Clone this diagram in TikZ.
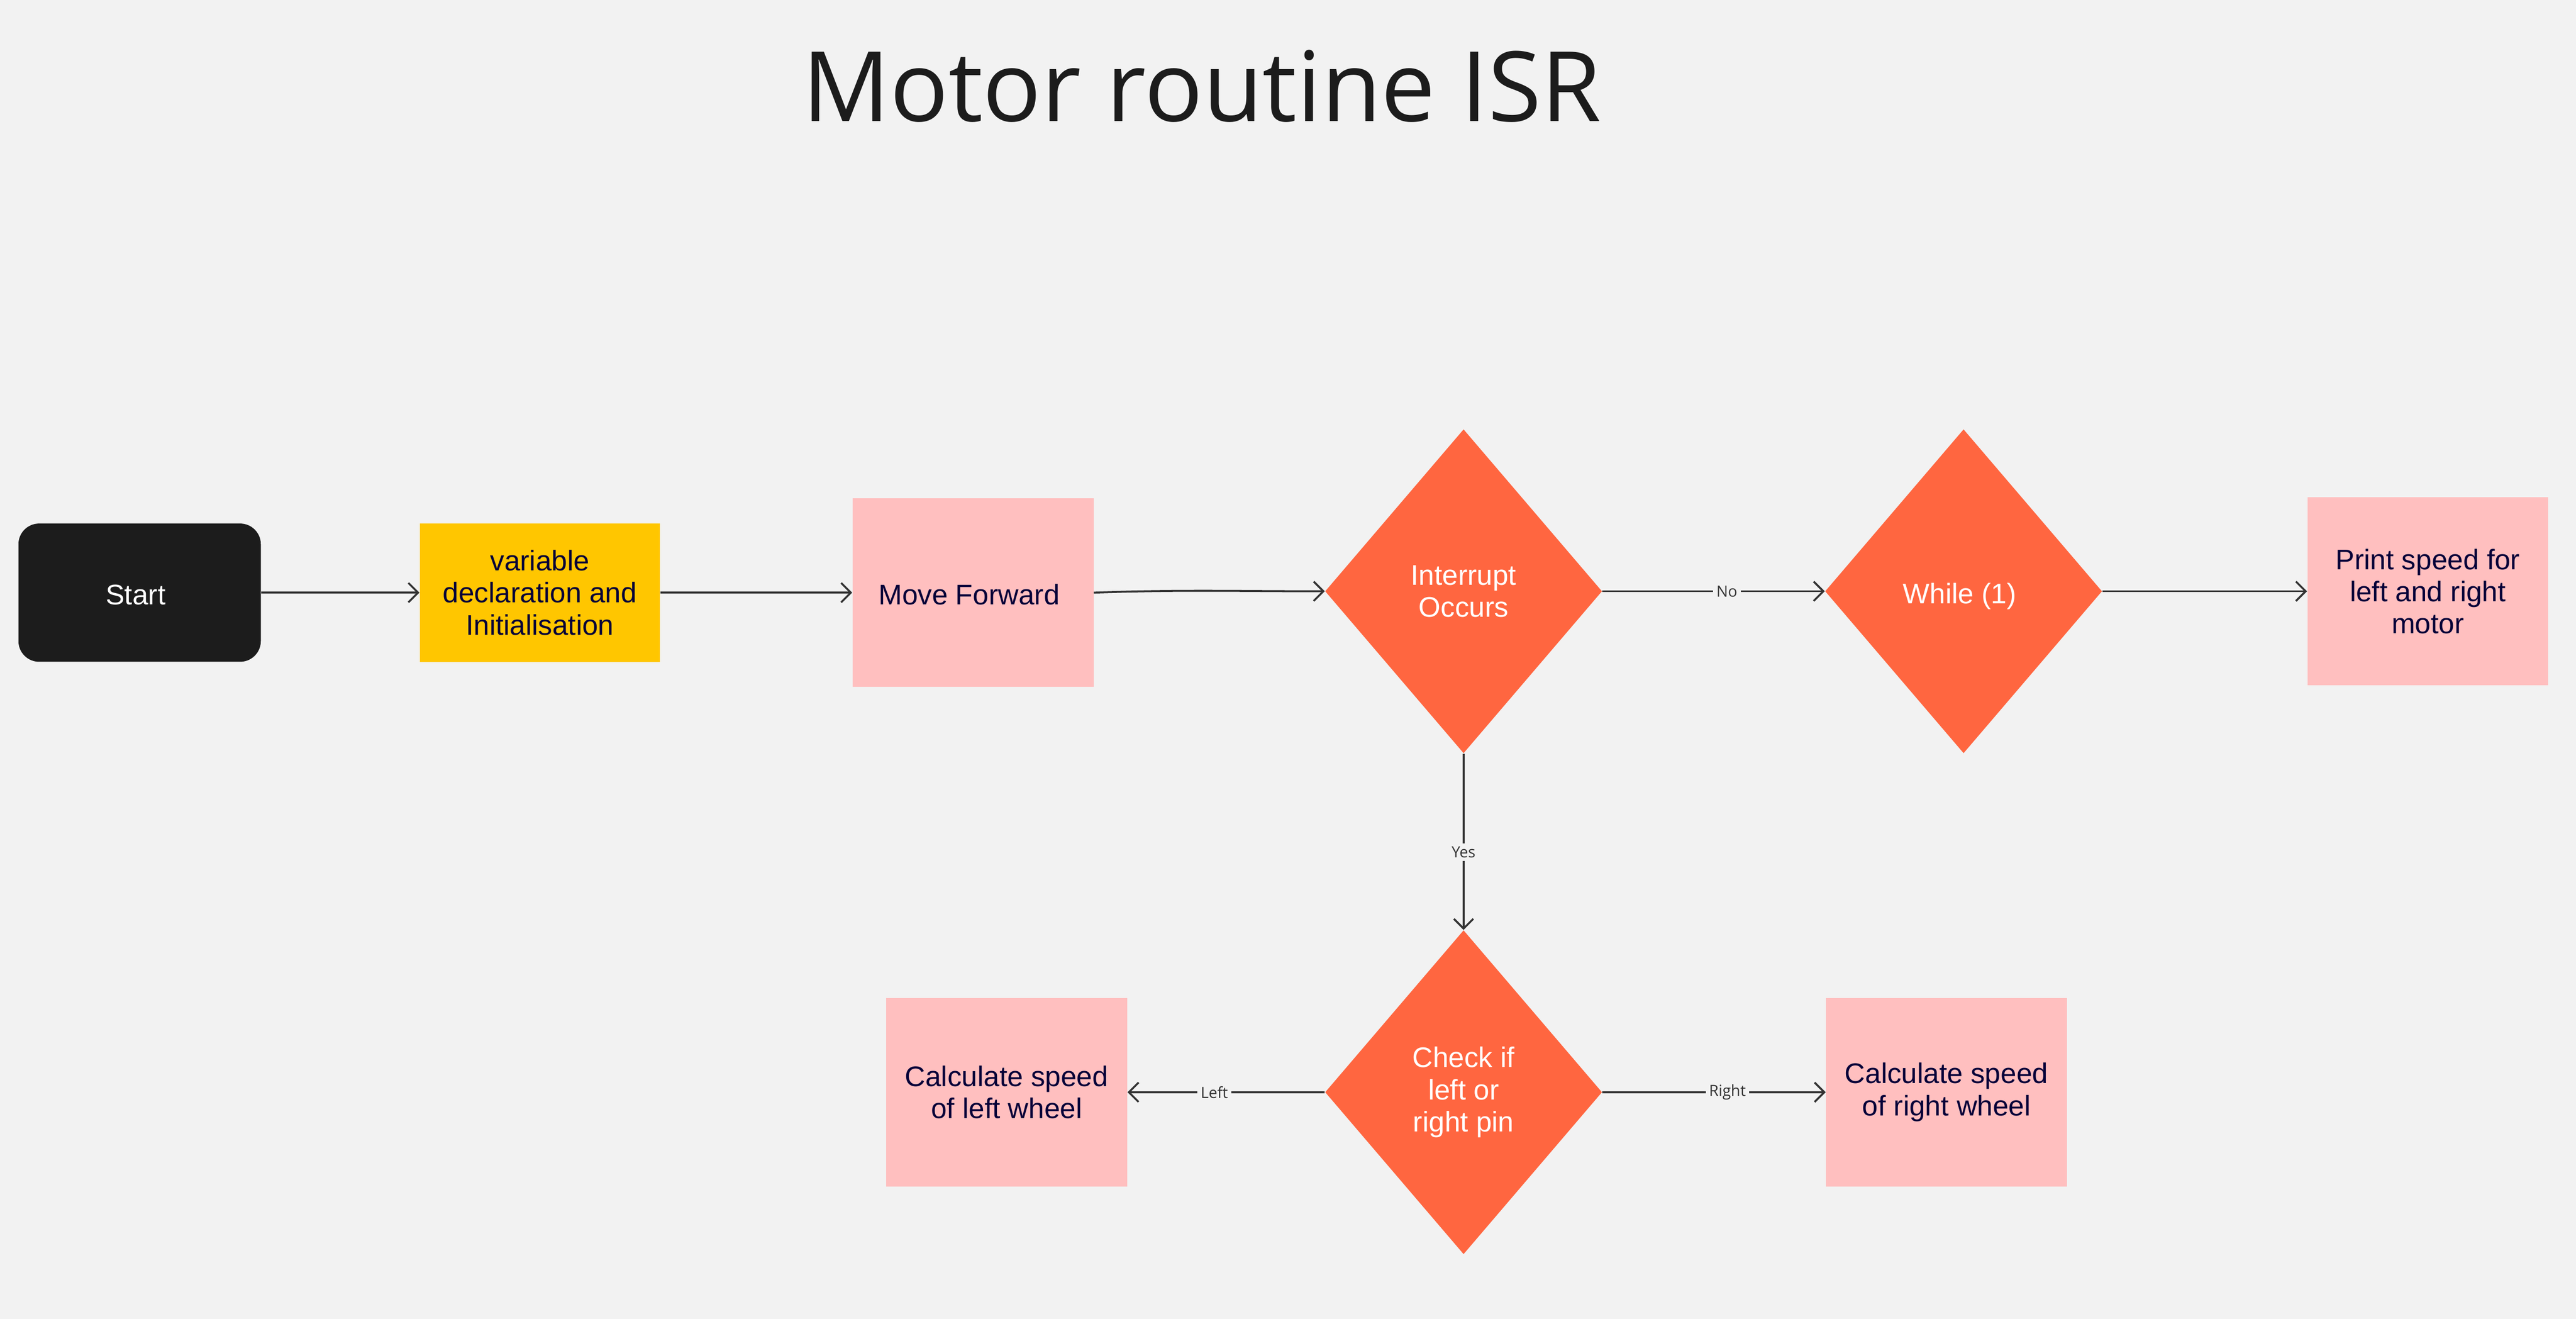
\documentclass[tikz,border=0pt]{standalone}
\usepackage{fontspec}
\setmainfont{Liberation Sans}
\newfontfamily\opensans{Open Sans}
\usepackage{xcolor}
\usetikzlibrary{
  shapes.geometric,
  arrows.meta
}
\definecolor{bgcol}{HTML}{F2F2F2}
\definecolor{pinkbox}{HTML}{FFBFBF}
\definecolor{yellowbox}{HTML}{FFC600}
\definecolor{orangedec}{HTML}{FF6640}
\definecolor{startcol}{HTML}{1C1C1C}
\definecolor{navytext}{HTML}{050038}
\definecolor{linecol}{HTML}{333333}
\definecolor{titlecol}{HTML}{1C1C1C}

\begin{document}
\begin{tikzpicture}[
  boxtext/.style={align=center, font=\fontsize{17.5}{19.8}\selectfont, inner sep=0pt},
  oneline/.style={text height=16.5pt, text depth=1.5pt},
  proc/.style={boxtext, rectangle, fill=pinkbox, text=navytext, minimum width=5.23cm, minimum height=4.09cm},
  decide/.style={boxtext, diamond, fill=orangedec, text=white, minimum width=6.01cm, minimum height=7.03cm},
  flow/.style={draw=linecol, line width=1.2pt, -{Straight Barb[length=6pt, width=12pt]}},
  lbl/.style={fill=bgcol, text=linecol, inner sep=2pt, font=\opensans\fontsize{9.5}{11}\selectfont, pos=0.56}
]
  \def\Ytop{15.76};
  \def\Ybot{4.92};
  \def\Xmid{31.76};
  \def\Xloop{42.61};
         \fill[bgcol] (0, 0) rectangle (55.90, 28.62);  % background
         \useasboundingbox (0, 0) rectangle (55.90, 28.62);

         \node [anchor=base, text=titlecol, font=\opensans\fontsize{60}{70}\selectfont] (title) at (26.08, 25.99) { Motor routine ISR };

         % top row
         \node [boxtext, oneline, rectangle, rounded corners=0.45cm, fill=startcol, text=white, minimum width=5.26cm, minimum height=3.00cm] (start) at (3.03, \Ytop) { Start };
         \node [boxtext, rectangle, fill=yellowbox, text=navytext, minimum width=5.21cm, minimum height=3.01cm] (init) at (11.715, \Ytop) { variable\\declaration and\\Initialisation };
         \node [proc, oneline] (move) at (21.115, \Ytop) { Move Forward };
         \node [decide] (intr) at (\Xmid, 15.79) { Interrupt\\Occurs };
         \node [decide, oneline] (loop) at (\Xloop, 15.79) { While (1) };
         \node [proc] (print) at (52.685, 15.79) { Print speed for\\left and right\\motor };

         % bottom row
         \node [decide] (check) at (\Xmid, \Ybot) { Check if\\left or\\right pin };
         \node [proc] (leftw) at (21.845, \Ybot) { Calculate speed\\of left wheel };
         \node [proc] (rightw) at (42.24, \Ybot) { Calculate speed\\of right wheel };

	\draw [flow] (start) -- (init);
	\draw [flow] (init) -- (move);
	\draw [flow] (move.east) to[out=2, in=180] (intr.west);
	\draw [flow] (intr.east) -- node [lbl] { No } (loop.west);
	\draw [flow] (loop.east) -- (print.west);
	\draw [flow] (intr.south) -- node [lbl] { Yes } (check.north);  % yes branch
	\draw [flow] (check.west) -- node [lbl] { Left } (leftw.east);
	\draw [flow] (check.east) -- node [lbl] { Right } (rightw.west);

\end{tikzpicture}
\end{document}
